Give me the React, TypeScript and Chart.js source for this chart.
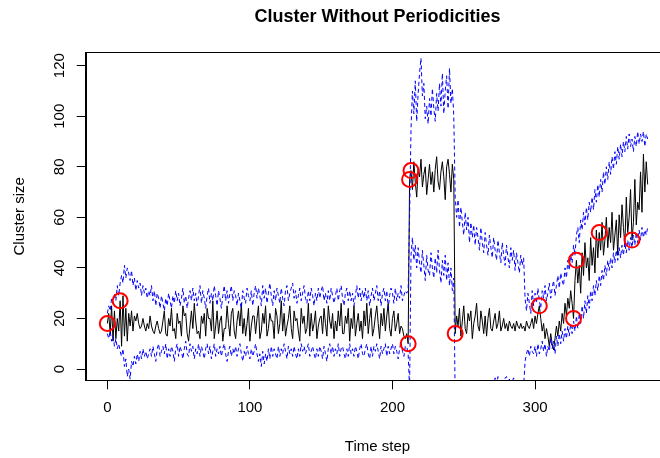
import React, { useEffect, useRef } from 'react';
import { Chart, registerables } from 'chart.js';

Chart.register(...registerables);

const TITLE = 'Cluster Without Periodicities';
const X_TITLE = 'Time step';
const Y_TITLE = 'Cluster size';
const X_TICKS = [0, 100, 200, 300];
const Y_TICKS = [0, 20, 40, 60, 80, 100, 120];
const FONT = '"Liberation Sans", Arial, Helvetica, sans-serif';

// observed cluster size per time step (0..379)
const clusterSize = [
  18, 22, 14, 25, 11, 23, 12, 20, 15, 27,
  9, 29, 13, 24, 11, 22, 17, 23, 15, 21,
  19, 22, 18, 16, 17, 20, 17, 15, 18, 16,
  21, 17, 15, 14, 17, 19, 16, 14, 15, 19,
  23, 14, 13, 20, 17, 24, 15, 16, 12, 22,
  18, 19, 13, 25, 21, 22, 14, 11, 17, 23,
  16, 26, 19, 14, 15, 12, 21, 18, 22, 13,
  24, 20, 20, 15, 27, 12, 17, 23, 14, 19,
  21, 11, 16, 16, 25, 18, 13, 22, 24, 15,
  12, 19, 23, 17, 26, 14, 20, 13, 18, 24,
  11, 17, 21, 21, 14, 20, 25, 12, 15, 22,
  18, 25, 13, 16, 22, 19, 19, 12, 24, 21,
  14, 18, 27, 15, 22, 13, 17, 20, 25, 16,
  12, 23, 19, 20, 15, 11, 24, 18, 21, 14,
  16, 26, 13, 22, 15, 18, 23, 12, 17, 20,
  21, 14, 24, 18, 13, 25, 19, 16, 22, 12,
  19, 15, 23, 17, 26, 14, 14, 21, 18, 24,
  11, 20, 16, 25, 13, 18, 22, 15, 19, 12,
  23, 17, 26, 14, 20, 24, 13, 16, 21, 25,
  18, 12, 22, 17, 24, 15, 21, 26, 16, 13,
  20, 23, 15, 18, 22, 14, 17, 16, 13, 12,
  14, 10, 75, 78.5, 71, 82, 74, 68, 79, 76,
  83, 72, 77, 80, 69, 75, 81, 73, 78, 70,
  79, 84, 74, 71, 78, 82, 76, 67, 80, 83,
  77, 70, 81, 75, 14, 21, 17, 24, 13, 19,
  25, 16, 14, 22, 19, 23, 12, 18, 21, 26,
  17, 15, 23, 19, 14, 21, 13, 20, 24, 16,
  15, 19, 22, 16, 18, 23, 15, 17, 20, 16,
  18, 15, 19, 17, 16, 18, 15, 19, 17, 16,
  18, 16, 17, 15, 19, 17, 16, 18, 20, 16,
  21, 18, 22, 25, 20, 15, 18, 12, 16, 13,
  9, 14, 10, 7.5, 12, 17, 13, 19, 15, 22,
  18, 26, 21, 28, 24, 31, 26, 20, 35, 43,
  34, 41, 30, 46, 37, 50, 40, 44, 35, 52,
  41, 48, 38, 55, 44, 54, 47, 58, 45, 51,
  60, 48, 56, 50, 62, 47, 53, 59, 45, 61,
  52, 65, 56, 49, 68, 54, 60, 71, 51, 58,
  75, 57, 66, 63, 78, 62, 85, 70, 82, 73,
];

// upper limit of the expected band
const upperBound = [
  22, 25, 23, 28, 26, 30, 27, 33, 29, 34,
  37, 34, 41, 36, 40, 38, 35, 39, 33, 36,
  31, 35, 32, 34, 29, 33, 30, 32, 28, 31,
  29, 33, 27, 31, 25, 30, 28, 24, 29, 26,
  23, 28, 25, 30, 27, 24, 29, 26, 31, 27,
  30, 25, 28, 32, 26, 29, 24, 28, 31, 27,
  32, 27, 30, 25, 29, 33, 26, 31, 28, 24,
  29, 32, 26, 30, 27, 33, 29, 25, 31, 28,
  24, 29, 33, 27, 31, 26, 30, 33, 27, 31,
  29, 25, 30, 27, 24, 31, 28, 26, 32, 29,
  27, 31, 25, 30, 33, 28, 32, 29, 25, 33,
  28, 32, 26, 30, 34, 29, 25, 31, 27, 32,
  29, 26, 32, 28, 25, 31, 33, 27, 30, 32,
  34, 28, 31, 26, 29, 32, 27, 30, 33, 28,
  26, 31, 27, 32, 29, 25, 30, 27, 32, 28,
  31, 33, 27, 30, 26, 31, 27, 32, 29, 26,
  29, 32, 27, 31, 33, 28, 25, 30, 32, 27,
  31, 27, 30, 25, 29, 33, 28, 32, 27, 31,
  28, 32, 27, 31, 25, 29, 32, 27, 30, 33,
  27, 31, 25, 30, 32, 27, 31, 24, 29, 32,
  30, 26, 32, 27, 30, 28, 33, 27, 29, 31,
  30, 31, 60, 95, 110, 101, 114, 98, 109, 117,
  123, 108, 113, 99, 104, 97, 107, 100, 111, 103,
  98, 109, 102, 113, 104, 117, 101, 110, 116, 103,
  119, 105, 111, 100, 68, 60, 67, 56, 64, 58,
  53, 62, 55, 60, 50, 58, 52, 57, 49, 56,
  52, 47, 56, 50, 46, 54, 49, 45, 53, 48,
  44, 52, 47, 43, 51, 46, 42, 50, 45, 41,
  49, 44, 40, 48, 43, 47, 39, 46, 42, 38,
  45, 41, 44, 28, 23, 30, 26, 22, 31, 25,
  30, 26, 32, 27, 24, 31, 28, 33, 27, 30,
  34, 28, 32, 35, 29, 33, 37, 32, 38, 35,
  33, 40, 36, 43, 39, 45, 42, 49, 45, 53,
  56, 50, 59, 55, 62, 57, 64, 59, 66, 62,
  68, 63, 71, 66, 73, 68, 75, 70, 78, 73,
  80, 75, 82, 77, 84, 79, 86, 81, 88, 83,
  89, 84, 90, 86, 92, 87, 93, 88, 91, 86,
  92, 88, 94, 89, 93, 90, 94, 88, 93, 91,
];

// lower limit of the expected band
const lowerBound = [
  14, 12, 15, 11, 13, 9, 12, 8, 10, 7,
  5, 8, 1, 4, -3, 0, -4, 3, 1, 5,
  2, 6, 3, 7, 4, 8, 5, 7, 4, 6,
  8, 5, 9, 6, 3, 8, 10, 5, 7, 9,
  6, 10, 4, 8, 5, 9, 7, 3, 8, 10,
  5, 9, 7, 4, 8, 11, 6, 5, 10, 7,
  9, 4, 8, 6, 10, 5, 9, 7, 4, 8,
  10, 6, 9, 4, 7, 10, 5, 8, 6, 9,
  5, 8, 10, 6, 3, 7, 9, 5, 8, 6,
  9, 5, 8, 10, 6, 3, 7, 5, 9, 6,
  4, 8, 5, 7, 10, 6, 3, 6, 1, 7,
  2, 6, 3, 8, 4, 9, 5, 8, 6, 4,
  9, 5, 8, 6, 10, 7, 4, 9, 6, 8,
  5, 9, 6, 4, 8, 5, 10, 7, 9, 6,
  8, 10, 5, 7, 9, 6, 4, 8, 5, 9,
  7, 4, 9, 6, 3, 8, 10, 6, 9, 5,
  8, 6, 10, 5, 8, 9, 6, 4, 8, 5,
  10, 6, 8, 5, 9, 7, 4, 8, 10, 6,
  5, 8, 10, 6, 4, 9, 5, 9, 7, 10,
  7, 4, 9, 6, 8, 10, 5, 9, 6, 8,
  10, 6, 9, 7, 4, 8, 11, 7, 5, 9,
  9, 6, -8, 45, 52, 43, 49, 40, 48, 42,
  38, 47, 41, 35, 45, 39, 37, 46, 40, 36,
  44, 38, 47, 39, 34, 43, 37, 45, 35, 42,
  33, 40, 31, 36, -12, -9, -12, -8, -11, -14,
  -10, -13, -9, -12, -8, -11, -14, -10, -9, -12,
  -8, -11, -13, -9, -7, -10, -12, -8, -6, -9,
  -5, -7, -3.5, -6, -3, -8, -5, -4, -7, -3.5,
  -3, -6, -4, -8, -5, -3.5, -7, -4, -9, -6,
  -8, -10, -7, 3, 6, 8, 5, 9, 7, 6,
  9, 5, 10, 6, 8, 11, 7, 10, 5, 9,
  7, 12, 8, 11, 6, 13, 9, 14, 10, 15,
  11, 16, 12, 17, 13, 18, 14, 19, 15, 21,
  16, 22, 18, 25, 20, 27, 22, 29, 24, 31,
  27, 33, 29, 35, 31, 37, 33, 39, 35, 41,
  37, 43, 39, 44, 40, 46, 42, 47, 43, 48,
  44, 49, 45, 50, 46, 51, 47, 52, 48, 53,
  49, 54, 50, 55, 51, 56, 52, 55, 53, 56,
];

// flagged anomalies
const anomalySteps = [0, 9, 211, 212, 213, 244, 303, 327, 329, 345, 368];
const anomalyValues = [18, 27, 10, 75, 78.5, 14, 25, 20, 43, 54, 51];

const rTextPlugin = {
  id: 'rText',
  afterDraw(chart: any) {
    const { ctx, chartArea: ca } = chart;
    ctx.save();
    ctx.strokeStyle = '#000';
    ctx.lineWidth = 1;
    ctx.strokeRect(Math.round(ca.left) + 0.5, Math.round(ca.top) + 0.5, Math.round(ca.right - ca.left), Math.round(ca.bottom - ca.top));
    const cx = (ca.left + ca.right) / 2;
    ctx.fillStyle = '#000';
    ctx.textAlign = 'center';
    ctx.textBaseline = 'middle';
    ctx.font = `bold 18px ${FONT}`;
    ctx.fillText(TITLE, cx, 17);
    ctx.font = `15px ${FONT}`;
    ctx.fillText(X_TITLE, cx, 447);
    ctx.translate(19.5, (ca.top + ca.bottom) / 2);
    ctx.rotate(-Math.PI / 2);
    ctx.fillText(Y_TITLE, 0, 0);
    ctx.restore();
  },
};

export default function App() {
  const ref = useRef<HTMLCanvasElement>(null);

  useEffect(() => {
    if (!ref.current) return;
    const toPts = (arr: number[]) => arr.map((v, i) => ({ x: i, y: v }));
    const chart = new Chart(ref.current, {
      type: 'line',
      data: {
        datasets: [
          {
            label: 'Anomalies',
            data: anomalySteps.map((s, i) => ({ x: s, y: anomalyValues[i] })),
            showLine: false,
            pointRadius: 7.5,
            pointBorderWidth: 2,
            pointBorderColor: '#ff0000',
            pointBackgroundColor: 'rgba(0,0,0,0)',
            borderColor: '#ff0000',
          },
          {
            label: 'Upper',
            data: toPts(upperBound),
            borderColor: '#0000ff',
            borderWidth: 1,
            borderDash: [4, 3],
            pointRadius: 0,
            tension: 0,
          },
          {
            label: 'Lower',
            data: toPts(lowerBound),
            borderColor: '#0000ff',
            borderWidth: 1,
            borderDash: [4, 3],
            pointRadius: 0,
            tension: 0,
          },
          {
            label: 'Cluster size',
            data: toPts(clusterSize),
            borderColor: '#000000',
            borderWidth: 1,
            pointRadius: 0,
            tension: 0,
          },
        ],
      },
      options: {
        responsive: false,
        devicePixelRatio: 1,
        animation: false,
        events: [],
        layout: { padding: { top: 52.3, right: 30.7, left: 0, bottom: 0 } },
        plugins: { legend: { display: false }, tooltip: { enabled: false }, title: { display: false } },
        scales: {
          x: {
            type: 'linear',
            min: -15.16,
            max: 394.16,
            afterBuildTicks: (s: any) => {
              s.ticks = X_TICKS.map((v) => ({ value: v }));
            },
            afterFit: (s: any) => {
              s.height = 77.7;
            },
            grid: { drawOnChartArea: false, drawTicks: true, tickLength: 9, color: '#000', lineWidth: 1 },
            border: { display: true, color: '#000', width: 1 },
            ticks: { color: '#000', font: { family: FONT, size: 15 }, padding: 10, maxRotation: 0, autoSkip: false },
          },
          y: {
            type: 'linear',
            min: -4.47,
            max: 125.3,
            afterBuildTicks: (s: any) => {
              s.ticks = Y_TICKS.map((v) => ({ value: v }));
            },
            afterFit: (s: any) => {
              s.width = 85.7;
            },
            grid: { drawOnChartArea: false, drawTicks: true, tickLength: 9, color: '#000', lineWidth: 1 },
            border: { display: true, color: '#000', width: 1 },
            ticks: {
              color: '#000',
              font: { family: FONT, size: 15 },
              padding: 4,
              minRotation: 90,
              maxRotation: 90,
              crossAlign: 'center',
              autoSkip: false,
            },
          },
        },
      },
      plugins: [rTextPlugin],
    } as any);
    return () => chart.destroy();
  }, []);

  return (
    <div style={{ position: 'fixed', left: 0, top: 0, width: 660, height: 458, overflow: 'hidden', background: '#fff' }}>
      <canvas ref={ref} width={700} height={458} style={{ display: 'block', width: 700, height: 458 }} />
    </div>
  );
}
